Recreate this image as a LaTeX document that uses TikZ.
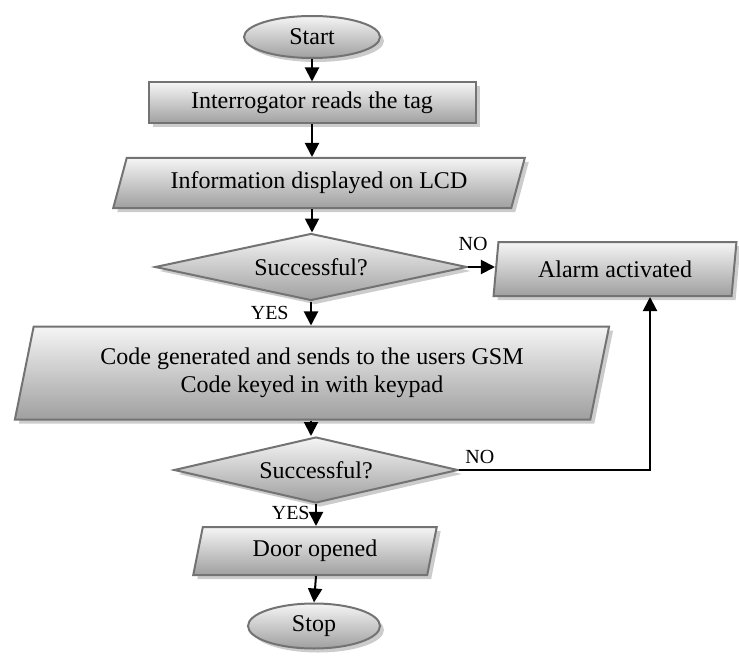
\documentclass[tikz,border=0pt]{standalone}
\usepackage{fontspec}
\setmainfont{Liberation Serif}
\usepackage{tikz}
\usetikzlibrary{shapes.geometric, arrows.meta, shadows, positioning}

\begin{document}
\begin{tikzpicture}[x=0.5pt, y=-0.5pt,
        box/.style={draw=black!55, line width=1pt, top color=gray!8, bottom color=gray!75,
                drop shadow={shadow xshift=2pt, shadow yshift=-2pt, opacity=0.4, fill=gray},
                font=\fontsize{12}{14}\selectfont, inner sep=1pt, align=center},
        term/.style={box, ellipse},
        para/.style={box, trapezium, trapezium stretches=true},
        decide/.style={box, diamond, shape aspect=4.6, inner sep=0pt},
        arr/.style={-{Triangle[width=7pt, length=7pt]}, line width=1pt},
        lbl/.style={font=\fontsize{10}{12}\selectfont, inner sep=1pt}]
                \useasboundingbox (0, 0) rectangle (739, 658);
                \node[term, minimum width=68pt, minimum height=21pt] (start) at (312, 37){Start};
                \node[box, minimum width=163.5pt, minimum height=20.5pt] (reads) at (312, 103){Interrogator reads the tag};
                \node[para, trapezium left angle=68, trapezium right angle=112, minimum width=206pt, minimum height=25pt] (lcd) at (319, 183){Information displayed on LCD};
                \node[decide, minimum width=156pt, minimum height=33.5pt] (ok1) at (311, 267){Successful?};
                \node[para, trapezium left angle=81, trapezium right angle=99, minimum width=122pt, minimum height=27pt] (alarm) at (615, 269){Alarm activated};
                \node[para, trapezium left angle=75, trapezium right angle=105, minimum width=297.5pt, minimum height=46.5pt] (code) at (312, 373){Code generated and sends to the users GSM\\Code keyed in with keypad};
                \node[decide, minimum width=142pt, minimum height=33pt] (ok2) at (316, 470){Successful?};
                \node[para, trapezium left angle=78, trapezium right angle=102, minimum width=122pt, minimum height=24pt] (door) at (315, 551){Door opened};
                \node[term, minimum width=66pt, minimum height=22.5pt] (stop) at (314, 626){Stop};
                % labels on the branches
                \node[lbl, above=7pt of ok1.east, xshift=2.5pt] (no1){NO};
                \node[lbl, below left=1pt and 10pt of ok1.south] (yes1){YES};
                \node[lbl, above right=2pt and 2pt of ok2.east] (no2){NO};
                \node[lbl, below left=0pt and 2pt of ok2.south] (yes2){YES};
                % connectors
                \draw[arr] (start.south) -- (start.south |- reads.north);
                \draw[arr] (reads.south) -- (reads.south |- lcd.north);
                \draw[arr] (reads.south |- lcd.south) -- (reads.south |- ok1.north);
                \draw[arr] (ok1.east) -- (ok1.east -| alarm.west);
                \draw[arr] (ok1.south) -- (ok1.south |- code.north);
                \draw[arr] (ok1.south |- code.south) -- (ok1.south |- ok2.north);
                \draw[arr] (ok2.east) -| ([xshift=17.5pt]alarm.south);
                \draw[arr] (ok2.south) -- (ok2.south |- door.north);
                \draw[arr] (ok2.south |- door.south) -- (stop.north);
        \end{tikzpicture}
\end{document}
